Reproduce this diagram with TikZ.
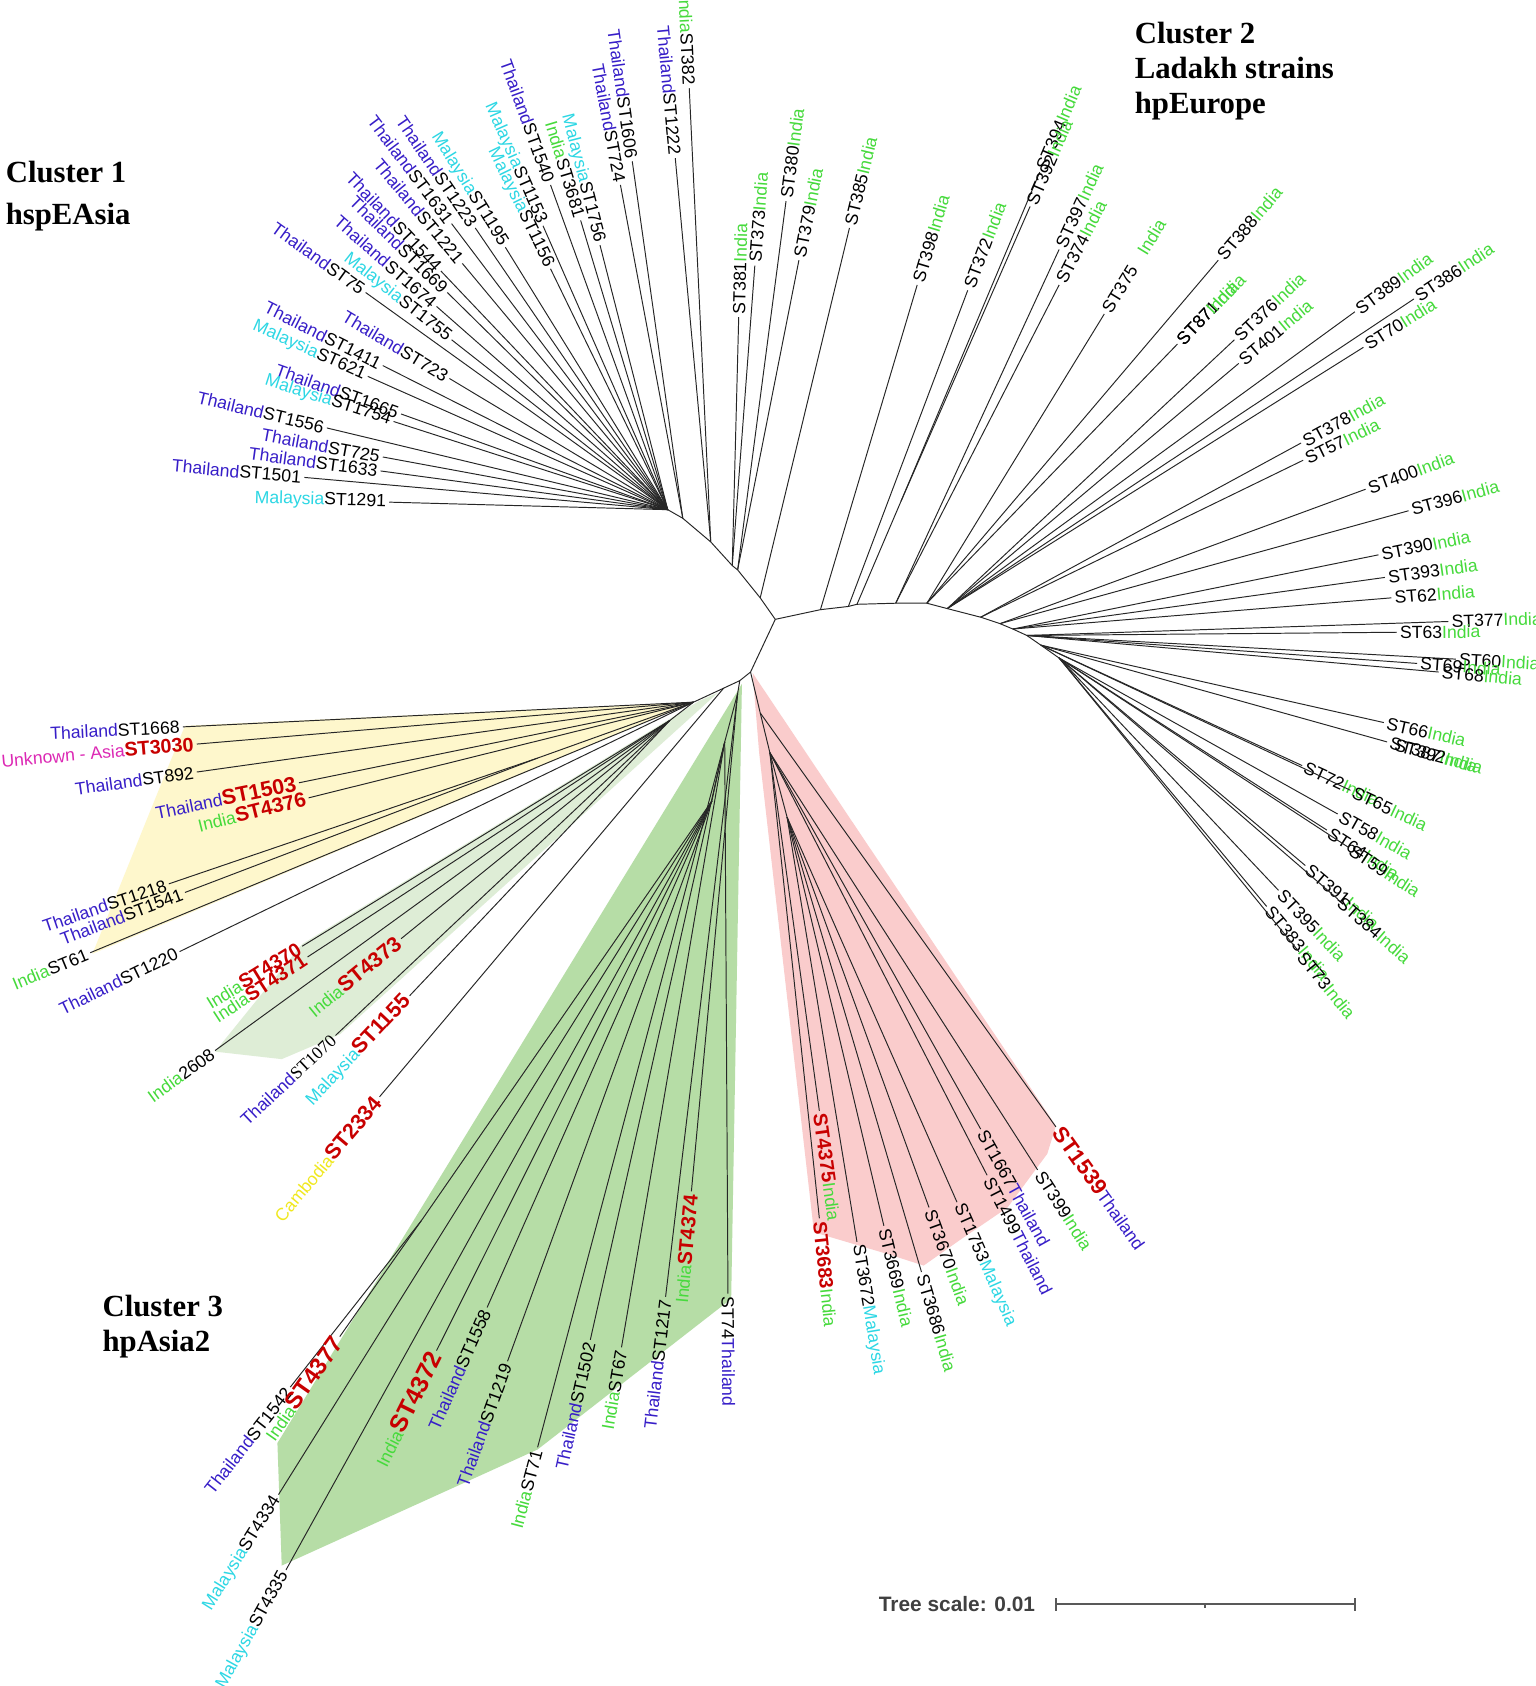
\documentclass[tikz,border=0pt]{standalone}
\usepackage{fontspec}
\setmainfont{Liberation Sans}
\newfontfamily\serifbf{Liberation Serif}
\definecolor{thai}{RGB}{55,30,200}
\definecolor{mal}{RGB}{45,215,228}
\definecolor{ind}{RGB}{70,218,60}
\definecolor{stred}{RGB}{200,0,0}
\definecolor{unk}{RGB}{220,40,180}
\definecolor{camb}{RGB}{240,232,30}
\definecolor{fillY}{RGB}{254,247,204}
\definecolor{fillLG}{RGB}{222,237,214}
\definecolor{fillG}{RGB}{182,221,166}
\definecolor{fillP}{RGB}{250,204,204}
\newcommand\cTH{\textcolor{thai}{Thailand}}
\newcommand\cMY{\textcolor{mal}{Malaysia}}
\newcommand\cIN{\textcolor{ind}{India}}
\newcommand\cUN{\textcolor{unk}{Unknown - Asia}}
\newcommand\cCA{\textcolor{camb}{Cambodia}}
\newcommand\cRD[2][9.6]{{\fontsize{#1}{#1}\selectfont\bfseries\color{stred}#2}}
\tikzset{
  br/.style={draw=black!85, line width=0.45pt},
  lbl/.style={font=\fontsize{8.2}{9}\selectfont, inner sep=1.3pt, text=black},
  title/.style={font=\serifbf\bfseries\fontsize{14.3}{16}\selectfont, anchor=base west, inner sep=0pt},
}
\newcommand\leaf[4]{%
  \coordinate (#1) at (#3);
  \draw[br] (#2) -- (#1);
  \pgfmathanglebetweenpoints{\pgfpointanchor{#2}{center}}{\pgfpointanchor{#1}{center}}%
  \let\lfang\pgfmathresult
  \ifdim\lfang pt>90pt
    \ifdim\lfang pt<270pt
      \node[lbl,rotate=\lfang+180,anchor=east] (#1-t) at (#1) {#4};
    \else
      \node[lbl,rotate=\lfang,anchor=west] (#1-t) at (#1) {#4};
    \fi
  \else
    \node[lbl,rotate=\lfang,anchor=west] (#1-t) at (#1) {#4};
  \fi
}
\begin{document}
\begin{tikzpicture}[x=0.5pt,y=-0.5pt]
\useasboundingbox (0,0) rectangle (1428,1568);
\fill[white] (0,0) rectangle (1428,1568);
% clade shadings
\fill[fillY] (645,653) -- (172,675) -- (156,714) -- (86,887) -- cycle;
\fill[fillLG] (650,652) -- (281,878) -- (200,978) -- (262,985) -- (316,962) -- (668,644) -- cycle;
\fill[fillG] (690,636) -- (258,1342) -- (262,1456) -- (500,1348) -- (680,1208) -- cycle;
\fill[fillP] (700,626) -- (706,700) -- (757,1146) -- (828,1167) -- (859,1177) -- (893,1153) -- (937,1123) -- (974,1073) -- (982,1047) -- cycle;
% internal nodes
\coordinate (C0) at (721,576);
\coordinate (U1) at (707,556);
\coordinate (U2) at (686,530);
\coordinate (U3) at (681,526);
\coordinate (U4) at (661,504);
\coordinate (U5) at (635,482);
\coordinate (U6) at (621,474);
\coordinate (R1) at (763,567);
\coordinate (R2) at (789,564);
\coordinate (R3) at (797,562);
\coordinate (R4) at (833,561);
\coordinate (R5) at (862,561);
\coordinate (R6) at (881,566);
\coordinate (R7) at (912,574);
\coordinate (R8) at (930,580);
\coordinate (R9) at (942,585);
\coordinate (R10) at (955,591);
\coordinate (R11) at (968,600);
\coordinate (R12) at (985,612);
\coordinate (S1) at (838,466);
\coordinate (D1) at (698,625);
\coordinate (D2) at (688,633);
\coordinate (D3) at (673,640);
\coordinate (Y0) at (645,653);
\coordinate (Y1) at (500,705);
\coordinate (LG) at (623,670);
\coordinate (P0) at (707,663);
\coordinate (P1) at (716,700);
\coordinate (P2) at (732,760);
\coordinate (G0) at (686,645);
\coordinate (G1) at (674,690);
\coordinate (G2) at (662,745);
\coordinate (G3) at (392,1135);
% backbone
\draw[br] (U6) -- (U5) -- (U4) -- (U3) -- (U2) -- (U1) -- (C0);
\draw[br] (C0) -- (R1) -- (R2) -- (R3) -- (R4) -- (R5) -- (R6) -- (R7) -- (R8) -- (R9) -- (R10) -- (R11) -- (R12);
\draw[br] (R3) -- (S1);
\draw[br] (C0) -- (D1) -- (D2) -- (D3) -- (Y0) -- (LG);
\draw[br] (Y0) -- (Y1);
\draw[br] (D1) -- (P0) -- (P1) -- (P2);
\draw[br] (D2) -- (G0) -- (G1) -- (G2) -- (G3);
% cluster 1
\leaf{l382}{U4}{641,82}{\cIN ST382}
\leaf{l1222}{U4}{628,147}{\cTH ST1222}
\leaf{l1606}{U5}{588,150}{\cTH ST1606}
\leaf{l724}{U5}{577,172}{\cTH ST724}
\leaf{l1756}{U6}{558,228}{\cMY ST1756}
\leaf{l3681}{U6}{540,205}{\cIN ST3681}
\leaf{l1540}{U6}{512,172}{\cTH ST1540}
\leaf{l1153}{U6}{505,210}{\cMY ST1153}
\leaf{l1156}{U6}{512,250}{\cMY ST1156}
\leaf{l1195}{U6}{470,230}{\cMY ST1195}
\leaf{l1223}{U6}{442,212}{\cTH ST1223}
\leaf{l1631}{U6}{420,208}{\cTH ST1631}
\leaf{l1221}{U6}{430,245}{\cTH ST1221}
\leaf{l1544}{U6}{410,252}{\cTH ST1544}
\leaf{l1669}{U6}{416,272}{\cTH ST1669}
\leaf{l1674}{U6}{406,285}{\cTH ST1674}
\leaf{l75}{U6}{340,272}{\cTH ST75}
\leaf{l1755}{U6}{420,316}{\cMY ST1755}
\leaf{l723}{U6}{418,352}{\cTH ST723}
\leaf{l1411}{U6}{356,340}{\cTH ST1411}
\leaf{l621}{U6}{342,350}{\cMY ST621}
\leaf{l1665}{U6}{373,385}{\cTH ST1665}
\leaf{l1754}{U6}{366,392}{\cMY ST1754}
\leaf{l1556}{U6}{304,398}{\cTH ST1556}
\leaf{l725}{U6}{356,425}{\cTH ST725}
\leaf{l1633}{U6}{354,438}{\cTH ST1633}
\leaf{l1501}{U6}{283,444}{\cTH ST1501}
\leaf{l1291}{U6}{362,467}{\cMY ST1291}
% cluster 2
\leaf{l381}{U3}{687,295}{ST381\cIN}
\leaf{l373}{U3}{702,247}{ST373\cIN}
\leaf{l380}{U2}{731,187}{ST380\cIN}
\leaf{l379}{U2}{743,242}{ST379\cIN}
\leaf{l385}{U1}{790,212}{ST385\cIN}
\leaf{l398}{R1}{853,265}{ST398\cIN}
\leaf{l372}{R2}{900,270}{ST372\cIN}
\leaf{l394}{S1}{967,160}{ST394\cIN}
\leaf{l392}{S1}{958,192}{ST392\cIN}
\leaf{l397}{R4}{985,232}{ST397\cIN}
\leaf{l374}{R4}{985,265}{ST374\cIN}
\leaf{l375}{R5}{1027,292}{ST375\hspace{0.9em}\cIN}
\leaf{l388}{R5}{1133,242}{ST388\cIN}
\leaf{l371}{R5}{1095,320}{\rlap{ST371\cIN}ST87\cIN}
\leaf{l376}{R6}{1148,316}{ST376\cIN}
\leaf{l401}{R6}{1152,338}{ST401\cIN}
\leaf{l389}{R6}{1260,290}{ST389\cIN}
\leaf{l386}{R6}{1315,278}{ST386\cIN}
\leaf{l70}{R6}{1268,323}{ST70\cIN}
\leaf{l378}{R7}{1210,412}{ST378\cIN}
\leaf{l57}{R7}{1212,428}{ST57\cIN}
\leaf{l400}{R8}{1270,455}{ST400\cIN}
\leaf{l396}{R8}{1310,475}{ST396\cIN}
\leaf{l390}{R9}{1282,516}{ST390\cIN}
\leaf{l393}{R9}{1288,537}{ST393\cIN}
\leaf{l62}{R9}{1294,556}{ST62\cIN}
\leaf{l377}{R10}{1347,578}{ST377\cIN}
\leaf{l63}{R10}{1299,588}{ST63\cIN}
\leaf{l60}{R10}{1354,613}{ST60\cIN}
\leaf{l69}{R10}{1318,617}{ST69\cIN}
\leaf{l68}{R10}{1338,625}{ST68\cIN}
\leaf{l66}{R11}{1287,672}{ST66\cIN}
\leaf{l387}{R11}{1290,690}{\rlap{ST387\cIN}\hspace{0.3em}ST392\cIN}
\leaf{l72}{R11}{1211,712}{ST72\cIN}
\leaf{l65}{R11}{1256,735}{ST65\cIN}
\leaf{l58}{R12}{1244,757}{ST58\cIN}
\leaf{l64}{R12}{1234,772}{ST64\cIN}
\leaf{l59}{R12}{1254,788}{ST59\cIN}
\leaf{l391}{R12}{1214,805}{ST391\cIN}
\leaf{l384}{R12}{1244,836}{ST384\cIN}
\leaf{l395}{R12}{1189,828}{ST395\cIN}
\leaf{l383}{R12}{1178,843}{ST383\cIN}
\leaf{l73}{R12}{1208,885}{ST73\cIN}
% yellow clade
\leaf{l1668}{Y0}{170,676}{\cTH ST1668}
\leaf{l3030}{Y0}{183,692}{\cUN\cRD[9.2]{ST3030}}
\leaf{l892}{Y0}{183,718}{\cTH ST892}
\leaf{l1503}{Y0}{278,728}{\cTH\cRD[10]{ST1503}}
\leaf{l4376}{Y0}{287,742}{\cIN\cRD[9.6]{ST4376}}
\leaf{l1218}{Y1}{157,822}{\cTH ST1218}
\leaf{l1541}{Y1}{172,830}{\cTH ST1541}
\leaf{l61}{Y0}{84,886}{\cIN ST61}
\leaf{l1220}{Y0}{167,885}{\cTH ST1220}
% light green clade
\leaf{l4370}{LG}{281,880}{\cIN\cRD[9.2]{ST4370}}
\leaf{l4371}{LG}{286,890}{\cIN\cRD[9.2]{ST4371}}
\leaf{l4373}{LG}{373,873}{\cIN\cRD[10]{ST4373}}
\leaf{l2608}{LG}{200,977}{\cIN 2608}
\leaf{l1070}{LG}{312,963}{\cTH{\serifbf ST1070}}
\leaf{l1155}{LG}{381,926}{\cMY\cRD[10]{ST1155}}
\leaf{l2334}{D3}{353,1020}{\cCA\cRD[10]{ST2334}}
% green clade
\leaf{l1542}{G3}{270,1290}{\cTH ST1542}
\leaf{l4377}{G3}{316,1243}{\cIN\cRD[11]{ST4377}}
\leaf{l4334}{G2}{259,1390}{\cMY ST4334}
\leaf{l4335}{G2}{266,1460}{\cMY ST4335}
\leaf{l4372}{G2}{406,1256}{\cIN\cRD[11.5]{ST4372}}
\leaf{l1558}{G2}{453,1216}{\cTH ST1558}
\leaf{l1219}{G2}{472,1266}{\cTH ST1219}
\leaf{l71}{G1}{500,1346}{\cIN ST71}
\leaf{l1502}{G1}{549,1246}{\cTH ST1502}
\leaf{l67}{G1}{578,1253}{\cIN ST67}
\leaf{l1217}{G0}{619,1206}{\cTH ST1217}
\leaf{l4374}{G0}{643,1108}{\cIN\cRD[9.4]{ST4374}}
\leaf{l74}{G1}{677,1203}{ST74\cTH}
% pink clade
\leaf{l4375}{P1}{762,1033}{\cRD[9.2]{ST4375}\cIN}
\leaf{l3683}{P1}{762,1133}{\cRD[9]{ST3683}\cIN}
\leaf{l3672}{P2}{797,1155}{ST3672\cMY}
\leaf{l3669}{P2}{822,1140}{ST3669\cIN}
\leaf{l3686}{P2}{857,1183}{ST3686\cIN}
\leaf{l3670}{P2}{864,1123}{ST3670\cIN}
\leaf{l1753}{P2}{890,1118}{ST1753\cMY}
\leaf{l1667}{P1}{912,1050}{ST1667\cTH}
\leaf{l1499}{P1}{918,1093}{ST1499\cTH}
\leaf{l399}{P1}{965,1088}{ST399\cIN}
\leaf{l1539}{P0}{982,1048}{\cRD[10.2]{ST1539}\cTH}
% cluster titles
\node[title] (t1a) at (5,170) {Cluster 1};
\node[title] (t1b) at (5,209) {hspEAsia};
\node[title] (t2a) at (1055,40) {Cluster 2};
\node[title] (t2b) at (1055,73) {Ladakh strains};
\node[title] (t2c) at (1055,106) {hpEurope};
\node[title] (t3a) at (95,1224) {Cluster 3};
\node[title] (t3b) at (95,1257) {hpAsia2};
% scale bar
\node[font=\fontsize{9.7}{11}\selectfont\bfseries, text=black!75, anchor=east, inner sep=0pt] (ts) at (963,1492) {Tree scale: 0.01};
\coordinate (sbA) at (982,1492);
\coordinate (sbB) at (1260,1492);
\coordinate (sbM) at (1121,1492);
\draw[draw=black!65, line width=0.9pt] (sbA) -- (sbB);
\draw[draw=black!65, line width=0.9pt] ([yshift=-3pt]sbA) -- ([yshift=3pt]sbA);
\draw[draw=black!65, line width=0.9pt] ([yshift=-3pt]sbB) -- ([yshift=3pt]sbB);
\draw[draw=black!65, line width=0.9pt] (sbM) -- ([yshift=-1.5pt]sbM);
\end{tikzpicture}
\end{document}
